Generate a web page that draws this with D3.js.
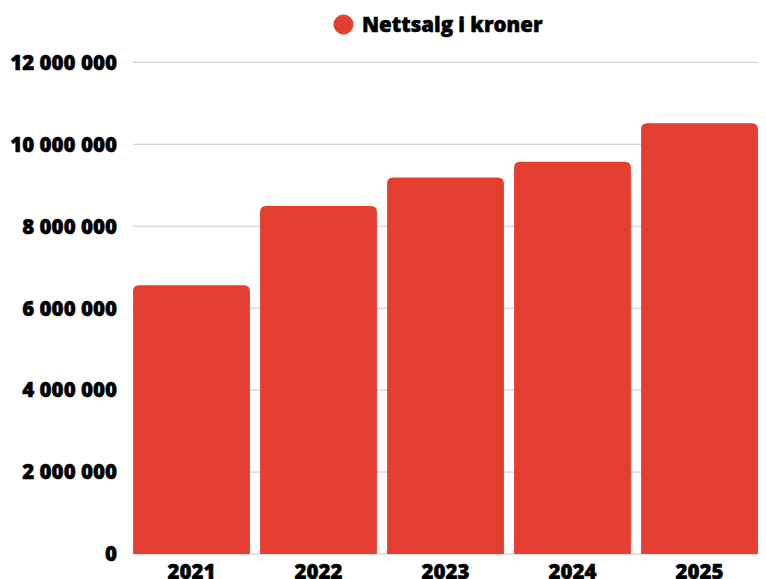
<!DOCTYPE html>
<html>
<head>
<meta charset="utf-8">
<script src="https://cdn.jsdelivr.net/npm/d3@7"></script>
<style>
  html, body { margin: 0; padding: 0; background: #fff; }
  svg { display: block; font-family: "Open Sans", "Lato", sans-serif; }
  .lbl { font-size: 20.5px; font-weight: 800; fill: #000; stroke: #000; stroke-width: 0.5px; }
</style>
</head>
<body>
<div id="chart"></div>
<script>
// ---- data ----
var years = ["2021", "2022", "2023", "2024", "2025"];
var sales = [6560000, 8490000, 9190000, 9570000, 10510000];
var yTicks = [0, 2000000, 4000000, 6000000, 8000000, 10000000, 12000000];
var seriesName = "Nettsalg i kroner";

(function () {
  var W = 766, H = 579, red = "#e53d30";
  var svg = d3.select("#chart").append("svg").attr("width", W).attr("height", H);

  var x = d3.scaleBand().domain(years).range([128, 763]).paddingInner(0.08).paddingOuter(0.04);
  var y = d3.scaleLinear().domain([0, 12000000]).range([554, 62.3]);
  var fmt = function (d) { return d3.format(",")(d).replace(/,/g, " "); };

  // gridlines
  svg.append("g").selectAll("line").data(yTicks).enter().append("line")
    .attr("x1", 133).attr("x2", 758)
    .attr("y1", function (d) { return y(d); }).attr("y2", function (d) { return y(d); })
    .attr("stroke", "#c8c8c8").attr("stroke-width", 1);

  // y labels
  svg.append("g").selectAll("text").data(yTicks).enter().append("text")
    .attr("class", "lbl")
    .attr("x", 117).attr("y", function (d) { return y(d); }).attr("dy", "0.36em")
    .attr("text-anchor", "end")
    .text(fmt);

  // bars with rounded top corners
  var r = 6, bw = x.bandwidth();
  svg.append("g").selectAll("path").data(years).enter().append("path")
    .attr("fill", red)
    .attr("d", function (d, i) {
      var x0 = x(d), x1 = x0 + bw, yt = y(sales[i]), yb = y(0);
      return "M" + x0 + "," + yb + "V" + (yt + r) + "Q" + x0 + "," + yt + " " + (x0 + r) + "," + yt +
        "H" + (x1 - r) + "Q" + x1 + "," + yt + " " + x1 + "," + (yt + r) + "V" + yb + "Z";
    });

  // x labels (cut by the bottom edge, as in the original)
  svg.append("g").selectAll("text").data(years).enter().append("text")
    .attr("class", "lbl")
    .attr("x", function (d) { return x(d) + bw / 2; }).attr("y", 579)
    .attr("text-anchor", "middle")
    .text(function (d) { return d; });

  // legend
  svg.append("circle").attr("cx", 343.5).attr("cy", 24.5).attr("r", 10).attr("fill", red);
  svg.append("text").attr("class", "lbl").attr("x", 362).attr("y", 24.5).attr("dy", "0.36em")
    .text(seriesName);
})();
</script>
</body>
</html>
